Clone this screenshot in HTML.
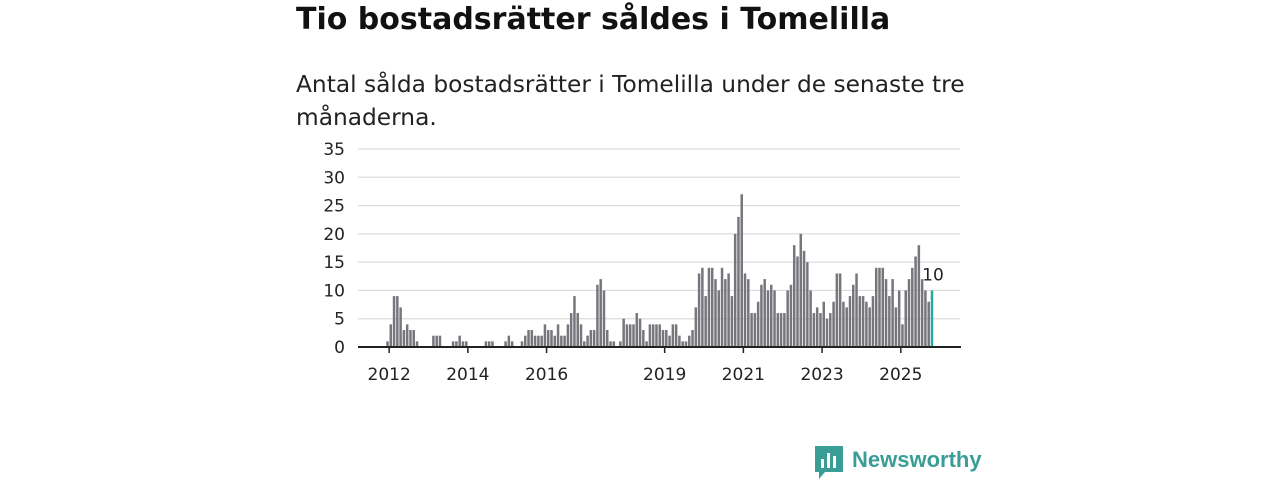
<!DOCTYPE html>
<html><head><meta charset="utf-8"><style>
body{margin:0;width:1280px;height:480px;background:#fff;font-family:"DejaVu Sans","Liberation Sans",sans-serif;overflow:hidden;position:relative}
#title{position:absolute;left:296px;top:2px;font-size:30px;font-weight:bold;color:#111;margin:0;white-space:nowrap}
#sub{position:absolute;left:296px;top:68px;width:720px;font-size:23.3px;line-height:33px;color:#222;margin:0}
svg{position:absolute;left:0;top:0}
</style></head><body>
<h1 id="title">Tio bostadsrätter såldes i Tomelilla</h1>
<p id="sub">Antal sålda bostadsrätter i Tomelilla under de senaste tre<br>månaderna.</p>
<svg id="chart" width="1280" height="480"></svg>
<script>
const values=[1,4,9,9,7,3,4,3,3,1,0,0,0,0,2,2,2,0,0,0,1,1,2,1,1,0,0,0,0,0,1,1,1,0,0,0,1,2,1,0,0,1,2,3,
3,2,2,2,4,3,3,2,4,2,2,
4,6,9,6,4,1,2,3,3,11,12,10,3,1,1,0,1,
5,4,4,4,6,5,3,1,4,4,4,4,3,3,2,4,4,2,1,
1,2,3,7,13,14,9,14,14,12,10,14,12,13,9,20,23,27,13,12,
6,6,8,11,12,10,11,10,6,6,6,10,11,18,16,20,17,15,10,6,
7,6,8,5,6,8,13,13,8,7,9,11,13,9,9,8,7,9,14,14,14,12,9,12,7,10,4,10,12,14,16,18,12,10,8,10];
const yTicks=[0,5,10,15,20,25,30,35];
const yearLabels=[2012,2014,2016,2019,2021,2023,2025];
const startYear=2012;
const NS="http://www.w3.org/2000/svg";
const svg=document.getElementById('chart');
const x0=387.5,step=3.28,yZero=347,yTop=149,yMax=35;
const xs=i=>x0+i*step;
const ys=v=>yZero-(v/yMax)*(yZero-yTop);
function mk(t,a){const e=document.createElementNS(NS,t);for(const k in a)e.setAttribute(k,a[k]);svg.appendChild(e);return e;}
yTicks.forEach(v=>{
  const g=mk('line',{x1:358,x2:960,y1:ys(v),y2:ys(v),stroke:'#dcdcdc','stroke-width':1.2});
  
  
  const t=mk('text',{x:345,y:ys(v)+6,'text-anchor':'end','font-size':17,fill:'#222'});
  t.textContent=v;
  
  
});
values.forEach((v,i)=>{
  const last=i===values.length-1;
  const r=mk('rect',{x:xs(i)-1.25,y:ys(v),width:2.5,height:yZero-ys(v),fill:last?'#2aa8a0':'#76767c'});
  
  
});
const lv=values[values.length-1];
const lt=mk('text',{x:xs(values.length-1)+1,y:ys(lv)-10,'text-anchor':'middle','font-size':17,fill:'#222'});
lt.textContent=lv;


const ax=mk('line',{x1:358,x2:961,y1:yZero,y2:yZero,stroke:'#222','stroke-width':2});


yearLabels.forEach(y=>{
  const xx=xs((y-startYear)*12+0.5);
  const tk=mk('line',{x1:xx,x2:xx,y1:yZero,y2:yZero+6,stroke:'#222','stroke-width':1.5});
  
  
  const t=mk('text',{x:xx,y:380,'text-anchor':'middle','font-size':17,fill:'#222'});
  t.textContent=y;
  
  
});
</script>
<div style="position:absolute;left:815px;top:446px;display:flex;align-items:center">
<svg width="28" height="34" viewBox="0 0 28 34" style="position:static"><path d="M0 0H28V26H10L4 33V26H0Z" fill="#3a9e96"/><rect x="6" y="13" width="3" height="9" fill="#fff"/><rect x="12" y="7" width="3" height="15" fill="#fff"/><rect x="18" y="10" width="3" height="12" fill="#fff"/></svg>
<span style="font-size:22px;font-weight:bold;color:#3a9e96;margin-left:9px;margin-top:-6px;font-family:'Liberation Sans',sans-serif">Newsworthy</span></div>
</body></html>
